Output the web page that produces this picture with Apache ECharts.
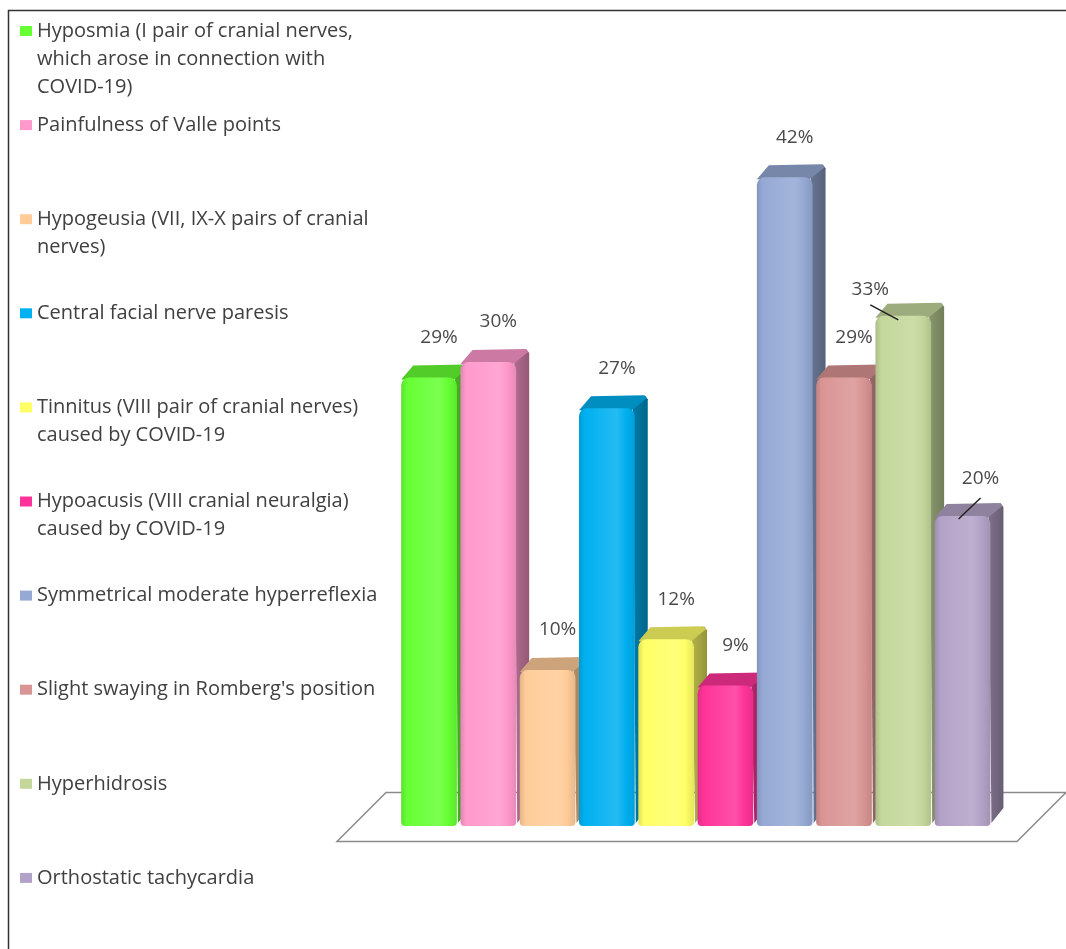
<!DOCTYPE html>
<html>
<head>
<meta charset="utf-8">
<script src="https://cdn.jsdelivr.net/npm/echarts@6/dist/echarts.min.js"></script>
<style>
  html, body { margin: 0; padding: 0; background: #fff; }
  #chart { width: 1066px; height: 949px; }
</style>
</head>
<body>
<div id="chart"></div>
<script>
// ---- Data ----
const categories = [
  'Hyposmia (I pair of cranial nerves, which arose in connection with COVID-19)',
  'Painfulness of Valle points',
  'Hypogeusia (VII, IX-X pairs of cranial nerves)',
  'Central facial nerve paresis',
  'Tinnitus (VIII pair of cranial nerves) caused by COVID-19',
  'Hypoacusis (VIII cranial neuralgia) caused by COVID-19',
  'Symmetrical moderate hyperreflexia',
  "Slight swaying in Romberg's position",
  'Hyperhidrosis',
  'Orthostatic tachycardia'
];
const legendLabels = [
  'Hyposmia (I pair of cranial nerves,\nwhich arose in connection with\nCOVID-19)',
  'Painfulness of Valle points',
  'Hypogeusia (VII, IX-X pairs of cranial\nnerves)',
  'Central facial nerve paresis',
  'Tinnitus (VIII pair of cranial nerves)\ncaused by COVID-19',
  'Hypoacusis (VIII cranial neuralgia)\ncaused by COVID-19',
  'Symmetrical moderate hyperreflexia',
  "Slight swaying in Romberg's position",
  'Hyperhidrosis',
  'Orthostatic tachycardia'
];
const values = [29, 30, 10, 27, 12, 9, 42, 29, 33, 20];

// ---- Styles ----
const colors = ['#66FF33', '#FF99CC', '#FFCC99', '#00B0F0', '#FFFF66',
                '#FF3399', '#95A9D4', '#D99594', '#C4D79B', '#B3A2C7'];
// label nudges (px) and leader lines for the two moved labels
const labelAdjust = [null, null, null, null, null, null, null, null,
  { dx: -43, dy: 14, line: [[-33, -11], [-5, 4]] },
  { dx: 8, dy: 3, line: [[18, -18], [-4, 3]] }];

const FONT = '"Open Sans", "Noto Sans", sans-serif';
const DEPTH = 13;

function shade(hex, k) {
  // k < 0 darkens toward black, k > 0 lightens toward white
  const n = parseInt(hex.slice(1), 16);
  let rgb = [(n >> 16) & 255, (n >> 8) & 255, n & 255];
  rgb = rgb.map(v => Math.round(k < 0 ? v * (1 + k) : v + (255 - v) * k));
  return 'rgb(' + rgb.join(',') + ')';
}

function renderBar(params, api) {
  const idx = api.value(0);
  const val = api.value(1);
  const top = api.coord([idx, val]);
  const base = api.coord([idx, 0]);
  const w = api.size([1, 0])[0] * 0.94;
  const d = DEPTH;
  const x0 = top[0] - w / 2, x1 = x0 + w;
  const yt = top[1], yb = base[1];
  const c = colors[params.seriesIndex];

  const children = [
    { // side face
      type: 'polygon',
      shape: { points: [[x1 - 2, yt], [x1 + d - 3, yt - d], [x1 + d, yt - d + 4], [x1 + d, yb - d - 3], [x1 + 1, yb - 1]] },
      style: { fill: { type: 'linear', x: 0, y: 0, x2: 1, y2: 0, colorStops: [
        { offset: 0, color: shade(c, -0.3) }, { offset: 1, color: shade(c, -0.42) }] } }
    },
    { // top face
      type: 'polygon',
      shape: { points: [[x0, yt + 2], [x0 + d - 1, yt - d + 1], [x1 + d - 4, yt - d], [x1 + d - 1, yt - d + 3], [x1 - 3, yt + 2]] },
      style: { fill: shade(c, -0.2) }
    },
    { // front face
      type: 'rect',
      shape: { x: x0, y: yt, width: w, height: yb - yt + 2, r: [8, 8, 4, 4] },
      style: { fill: { type: 'linear', x: 0, y: 0, x2: 1, y2: 0, colorStops: [
        { offset: 0, color: shade(c, -0.12) },
        { offset: 0.1, color: c },
        { offset: 0.68, color: shade(c, 0.14) },
        { offset: 0.84, color: c },
        { offset: 1, color: shade(c, -0.1) }] } }
    }
  ];

  const adj = labelAdjust[params.seriesIndex] || { dx: 0, dy: 0 };
  const cx = x0 + w / 2;
  children.push({
    type: 'text',
    style: {
      text: val + '%', x: cx + 10 + adj.dx, y: yt - 40 + adj.dy,
      align: 'center', verticalAlign: 'middle',
      font: '19px ' + FONT, fill: '#4a4a4a'
    }
  });
  if (adj.line) {
    children.push({
      type: 'line',
      shape: { x1: cx + adj.line[0][0], y1: yt + adj.line[0][1], x2: cx + adj.line[1][0], y2: yt + adj.line[1][1] },
      style: { stroke: '#222', lineWidth: 1.5 }
    });
  }
  return { type: 'group', children: children };
}

const chart = echarts.init(document.getElementById('chart'));

// one legend per entry so the rows keep the original even spacing;
// blank lines in front of the label keep the icon on the first text line
const LH = 28;
const legends = categories.map((name, i) => {
  const lines = legendLabels[i].split('\n').length;
  const firstLineY = 31 + 94.1 * i;
  const padded = '\n'.repeat(lines - 1) + legendLabels[i];
  return {
    data: [name],
    orient: 'vertical',
    left: 20,
    top: firstLineY - (2 * lines - 1) * LH / 2,
    padding: 0,
    icon: 'rect',
    itemWidth: 12,
    itemHeight: 10,
    selectedMode: false,
    formatter: () => padded,
    textStyle: {
      fontFamily: FONT, fontSize: 20, color: '#404040', lineHeight: LH
    }
  };
});

const option = {
  animation: false,
  legend: legends,
  grid: { left: 399.4, right: 73.8, top: 54, bottom: 125 },
  xAxis: {
    type: 'category',
    data: categories,
    show: false
  },
  yAxis: {
    type: 'value',
    min: 0,
    max: 50,
    show: false
  },
  graphic: [
    {
      type: 'polygon', z: -10,
      shape: { points: [[386, 792.5], [1066, 792.5], [1017, 841.5], [337, 841.5]] },
      style: { fill: '#fff', stroke: '#8a8a8a', lineWidth: 1.5 }
    },
    {
      type: 'polyline', z: 10,
      shape: { points: [[8.5, 949], [8.5, 10.5], [1066, 10.5]] },
      style: { fill: null, stroke: '#333', lineWidth: 1.5 }
    }
  ],
  series: categories.map((name, i) => ({
    name: name,
    type: 'custom',
    renderItem: renderBar,
    itemStyle: { color: colors[i] },
    data: [[i, values[i]]]
  }))
};

chart.setOption(option);
window.addEventListener('resize', () => chart.resize());
</script>
</body>
</html>
